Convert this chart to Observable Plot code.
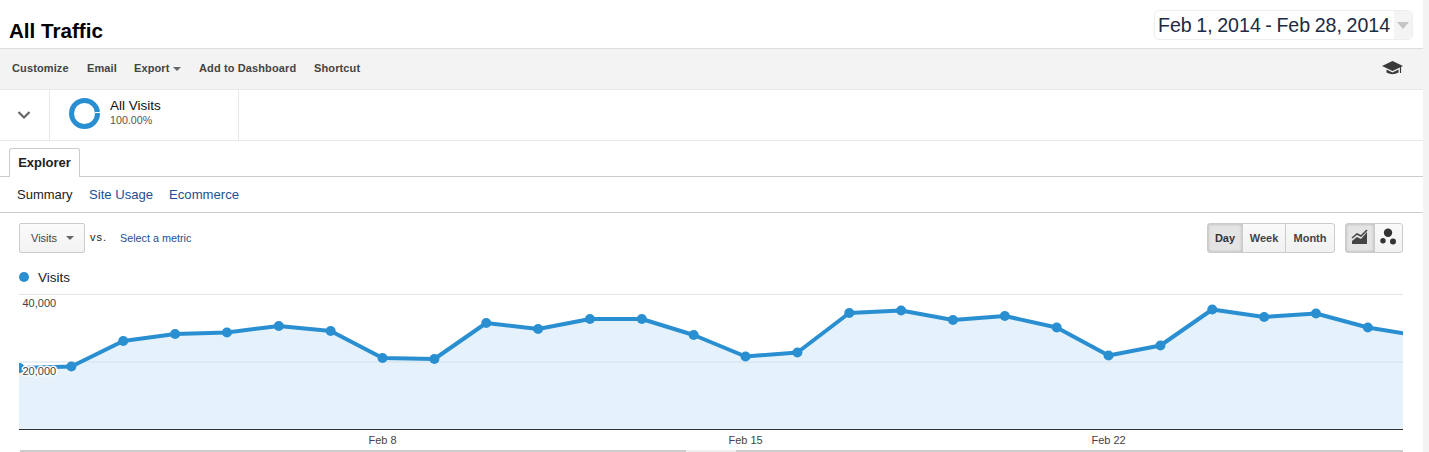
<!DOCTYPE html>
<html><head><meta charset="utf-8">
<script src="https://cdn.jsdelivr.net/npm/d3@7"></script>
<script src="https://cdn.jsdelivr.net/npm/@observablehq/plot@0.6"></script>
<style>
html,body{margin:0;padding:0;background:#fff;overflow:hidden}
body{position:relative;width:1429px;height:452px;font-family:"Liberation Sans",Arial,sans-serif;color:#222}
.a{position:absolute;white-space:nowrap;box-sizing:border-box}
.tb{top:62px;font:bold 11px/13px "Liberation Sans",Arial,sans-serif;color:#444;letter-spacing:.12px}
.link{color:#1d4f94}
.btn{top:223px;height:30px;border:1px solid #ccc;background:linear-gradient(#fafafa,#f1f1f1);font:bold 11px/28px "Liberation Sans",Arial,sans-serif;text-align:center;color:#444}
.on{background:#e4e4e4;box-shadow:inset 0 0 3px #aaa;color:#333}
#chart{position:absolute;left:0;top:285px}
#chart svg{display:block}
</style></head><body>
<div class="a" style="left:1423px;top:0;width:6px;height:452px;background:#f3f3f3"></div>
<div class="a" style="left:9px;top:19px;font:bold 20.6px/24px 'Liberation Sans',Arial,sans-serif;color:#000">All Traffic</div>
<div class="a" style="left:1154px;top:10px;width:259px;height:30px;border:1px solid #eee;border-radius:5px"></div>
<div class="a" style="left:1394px;top:11px;width:18px;height:28px;background:#f4f4f4;border-radius:0 5px 5px 0"></div>
<div class="a" style="left:1397px;top:22px;border:6px solid transparent;border-top:7px solid #c4c4c4;border-bottom:0"></div>
<div class="a" style="left:1158px;top:13px;font:19.6px/24px 'Liberation Sans',Arial,sans-serif;color:#1c2a44;word-spacing:-.9px">Feb 1, 2014 - Feb 28, 2014</div>

<div class="a" style="left:0;top:48px;width:1423px;height:42px;background:#f3f3f3;border-top:1px solid #ddd;border-bottom:1px solid #e8e8e8"></div>
<div class="a tb" style="left:12px">Customize</div>
<div class="a tb" style="left:87px">Email</div>
<div class="a tb" style="left:134px">Export</div>
<div class="a" style="left:173px;top:67px;border:4px solid transparent;border-top:4px solid #666;border-bottom:0"></div>
<div class="a tb" style="left:199px">Add to Dashboard</div>
<div class="a tb" style="left:314px">Shortcut</div>
<svg class="a" style="left:1382px;top:60px" width="22" height="16" viewBox="0 0 22 16"><path d="M0 6 L10.5 1 L21 6 L10.5 11Z" fill="#3a3a3a"/><path d="M4.5 9.5 V12.500 Q10.5 16 16.500 12.500 V9.500 L10.500 12.500Z" fill="#3a3a3a"/><path d="M18.500 7 V13" stroke="#3a3a3a" stroke-width="1.200"/></svg>

<div class="a" style="left:0;top:140px;width:1423px;height:1px;background:#e8e8e8"></div>
<div class="a" style="left:49px;top:90px;width:1px;height:50px;background:#e8e8e8"></div>
<div class="a" style="left:238px;top:90px;width:1px;height:50px;background:#e8e8e8"></div>
<svg class="a" style="left:17px;top:110px" width="14" height="10"><path d="M1.5 2 L7 7.5 L12.500 2" fill="none" stroke="#666" stroke-width="2.200"/></svg>
<div class="a" style="left:69px;top:98px;width:31px;height:31px;border:5px solid #2a8fd1;border-radius:50%"></div>
<div class="a" style="left:95px;top:112px;width:5px;height:1px;background:#fff"></div>
<div class="a" style="left:110px;top:98px;font:13.5px/15px 'Liberation Sans',Arial,sans-serif;color:#111">All Visits</div>
<div class="a" style="left:110px;top:114px;font:10.7px/13px 'Liberation Sans',Arial,sans-serif;color:#555">100.00%</div>

<div class="a" style="left:0;top:176px;width:1423px;height:1px;background:#ccc"></div>
<div class="a" style="left:9px;top:148px;width:71px;height:29px;border:1px solid #ccc;border-bottom:0;border-radius:3px 3px 0 0;background:#fff;font:bold 13px/28px 'Liberation Sans',Arial,sans-serif;text-align:center;color:#222">Explorer</div>
<div class="a" style="left:17px;top:187px;font:13px/15px 'Liberation Sans',Arial,sans-serif;color:#222">Summary</div>
<div class="a link" style="left:89px;top:187px;font:13.1px/15px 'Liberation Sans',Arial,sans-serif">Site Usage</div>
<div class="a link" style="left:169px;top:187px;font:13.150px/15px 'Liberation Sans',Arial,sans-serif">Ecommerce</div>
<div class="a" style="left:0;top:212px;width:1423px;height:1px;background:#ccc"></div>

<div class="a" style="left:19px;top:223px;width:66px;height:30px;border:1px solid #ccc;border-radius:2px;background:linear-gradient(#fbfbfb,#f2f2f2)"></div>
<div class="a" style="left:31px;top:232px;font:11px/13px 'Liberation Sans',Arial,sans-serif;color:#444">Visits</div>
<div class="a" style="left:66px;top:236px;border:4px solid transparent;border-top:4px solid #666;border-bottom:0"></div>
<div class="a" style="left:90px;top:231px;font:11px/13px 'Liberation Sans',Arial,sans-serif;color:#222;letter-spacing:1px">vs.</div>
<div class="a link" style="left:120px;top:232px;font:10.8px/13px 'Liberation Sans',Arial,sans-serif">Select a metric</div>

<div class="a btn on" style="left:1207px;width:36px;border-radius:3px 0 0 3px">Day</div>
<div class="a btn" style="left:1242px;width:44px">Week</div>
<div class="a btn" style="left:1285px;width:50px;border-radius:0 3px 3px 0">Month</div>
<div class="a btn on" style="left:1345px;width:30px;border-radius:3px 0 0 3px"></div>
<div class="a btn" style="left:1374px;width:29px;border-radius:0 3px 3px 0"></div>
<svg class="a" style="left:1351px;top:229px" width="18" height="17"><path d="M1 12 L6 8 L10 10 L16 3 V15 H1Z" fill="#444"/><path d="M1 9 L6 5 L10 7 L16 1" fill="none" stroke="#444" stroke-width="1.500"/></svg>
<svg class="a" style="left:1378px;top:228px" width="22" height="19"><circle cx="10" cy="4.700" r="4.200" fill="#333"/><circle cx="5" cy="12.700" r="2.700" fill="#333"/><circle cx="15" cy="13.500" r="3" fill="#333"/></svg>

<div class="a" style="left:19px;top:272px;width:10px;height:10px;border-radius:50%;background:#2a8fd1"></div>
<div class="a" style="left:38px;top:270px;font:13.500px/15px 'Liberation Sans',Arial,sans-serif;color:#222">Visits</div>

<div id="chart"></div>
<div class="a" style="left:20px;top:450px;width:1383px;height:2px;background:#ccc"></div>
<div class="a" style="left:686px;top:450px;width:50px;height:2px;background:#eee"></div>

<script>
const days = ["2014-02-01","2014-02-02","2014-02-03","2014-02-04","2014-02-05","2014-02-06","2014-02-07","2014-02-08","2014-02-09","2014-02-10","2014-02-11","2014-02-12","2014-02-13","2014-02-14","2014-02-15","2014-02-16","2014-02-17","2014-02-18","2014-02-19","2014-02-20","2014-02-21","2014-02-22","2014-02-23","2014-02-24","2014-02-25","2014-02-26","2014-02-27","2014-02-28"];
const visits = [18220,18670,26220,28300,28740,30670,29190,21190,20890,31560,29780,32740,32740,28000,21630,22810,34520,35260,32440,33630,30220,21930,24890,35560,33330,34370,30220,27700];
const yTicks = [20000,40000];
const xTicks = ["2014-02-08","2014-02-15","2014-02-22"];
const xStart = "2014-02-01T00:00Z";
const xEnd = "2014-02-27T16:30Z";

const rows = days.map((d,i)=>({date:new Date(d),visits:visits[i]}));
const blue = "#2a8fd1";
const plot = Plot.plot({
  width:1429, height:165,
  marginLeft:19, marginRight:26, marginTop:9, marginBottom:21,
  style:{fontFamily:"'Liberation Sans',Arial,sans-serif",fontSize:"11px",color:"#444",background:"transparent",overflow:"hidden"},
  x:{type:"utc",domain:[new Date(xStart),new Date(xEnd)]},
  y:{domain:[0,40000],axis:null},
  marks:[
    Plot.ruleY([40000],{stroke:"#e6e6e6",strokeWidth:1}),
    Plot.areaY(rows,{x:"date",y:"visits",fill:"#e5f2fb",clip:true}),
    Plot.ruleY([20000],{stroke:"#d3e1ea",strokeWidth:1}),
    Plot.lineY(rows,{x:"date",y:"visits",stroke:blue,strokeWidth:4,clip:true}),
    Plot.dot(rows,{x:"date",y:"visits",r:5,fill:blue,clip:true}),
    Plot.ruleY([0],{stroke:"#333",strokeWidth:1}),
    Plot.text(yTicks,{y:d=>d,frameAnchor:"left",textAnchor:"start",dx:3,dy:9,
      text:d3.format(","),fill:"#444",stroke:"white",strokeWidth:3,fontSize:11}),
    Plot.axisX({ticks:xTicks.map(d=>new Date(d)),anchor:"bottom",tickSize:0,tickPadding:7,label:null,
      tickFormat:d3.utcFormat("%b %-d"),fill:"#444",fontSize:11})
  ]
});
document.getElementById("chart").append(plot);
</script>
</body></html>
